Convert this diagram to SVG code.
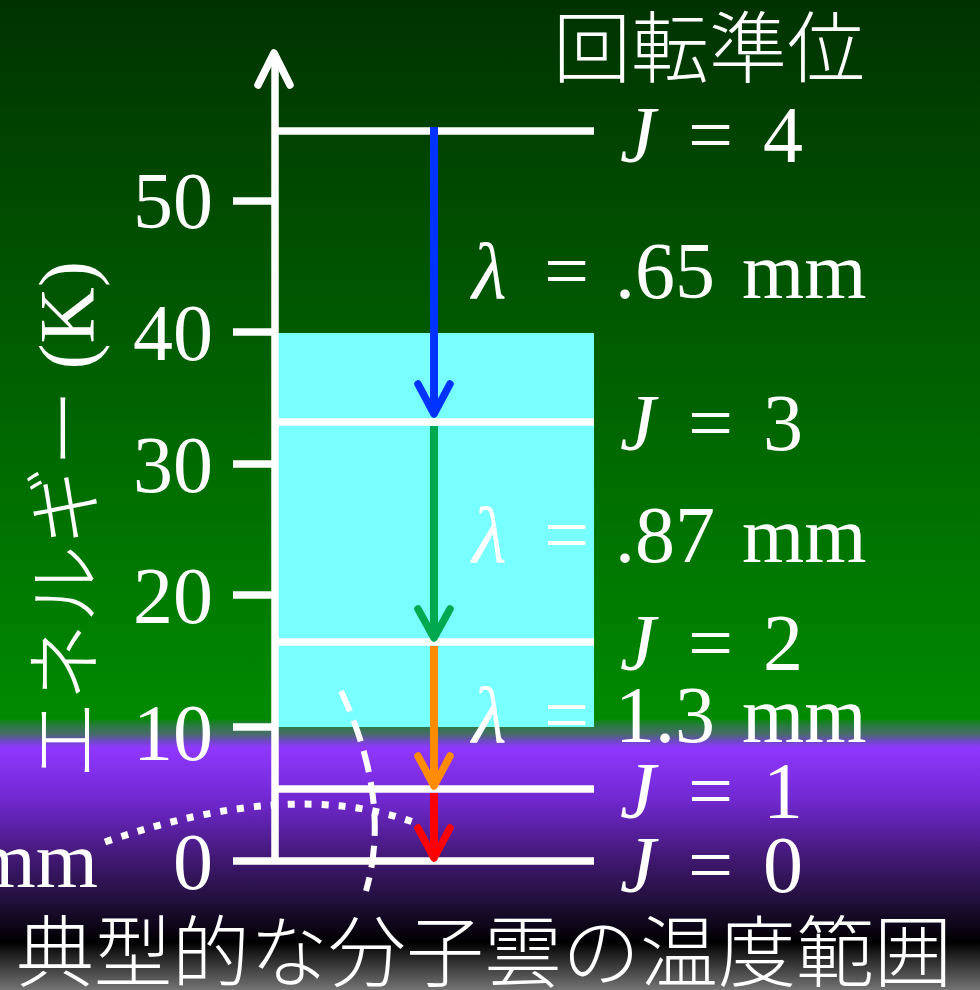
<svg xmlns="http://www.w3.org/2000/svg" width="980" height="990" viewBox="0 0 980 990">
<defs>
<linearGradient id="bg" gradientUnits="userSpaceOnUse" x1="0" y1="0" x2="0" y2="990">
<stop offset="0" stop-color="#003200"/>
<stop offset="0.725" stop-color="#008a00"/>
<stop offset="0.733" stop-color="#2a7a40"/>
<stop offset="0.742" stop-color="#4a6a70"/>
<stop offset="0.749" stop-color="#7048c8"/>
<stop offset="0.755" stop-color="#9038ff"/>
<stop offset="0.808" stop-color="#7028d0"/>
<stop offset="0.869" stop-color="#401870"/>
<stop offset="0.909" stop-color="#22103c"/>
<stop offset="0.952" stop-color="#000000"/>
<stop offset="0.96" stop-color="#151515"/>
<stop offset="1" stop-color="#747474"/>
</linearGradient>
<style>
.w{stroke:#ffffff;stroke-width:7.5;fill:none}
.head{fill:none;stroke-width:7.5;stroke-linecap:round;stroke-linejoin:round}
.shaft{stroke-width:8;fill:none}
.num{font-family:"Liberation Serif",serif;font-size:80px;fill:#ffffff}
.it{font-style:italic}
.cjk{font-family:"Noto Sans CJK JP Light","Noto Sans CJK JP",sans-serif;font-weight:300;font-size:78px;fill:#ffffff}
</style>
</defs>
<rect id="background" x="0" y="0" width="980" height="990" fill="url(#bg)"/>
<rect id="cloud-range" x="278" y="333" width="316" height="394" fill="#78ffff"/>

<g id="axis">
<line class="w" x1="275" y1="864" x2="275" y2="56"/>
<polyline class="head" stroke="#ffffff" points="258,85 274,53 290,85"/>
<line class="w" x1="233" y1="201" x2="275" y2="201"/>
<line class="w" x1="233" y1="332" x2="275" y2="332"/>
<line class="w" x1="233" y1="464" x2="275" y2="464"/>
<line class="w" x1="233" y1="595" x2="275" y2="595"/>
<line class="w" x1="233" y1="727" x2="275" y2="727"/>
<line class="w" x1="233" y1="861" x2="275" y2="861"/>
<text class="num" x="213" y="228" text-anchor="end">50</text>
<text class="num" x="213" y="360" text-anchor="end">40</text>
<text class="num" x="213" y="492" text-anchor="end">30</text>
<text class="num" x="213" y="623" text-anchor="end">20</text>
<text class="num" x="213" y="760" text-anchor="end">10</text>
<text class="num" x="213" y="889" text-anchor="end">0</text>
<text font-family="'Liberation Serif','Noto Sans CJK JP Light','Noto Sans CJK JP',serif" font-weight="300" font-size="78" fill="#ffffff" text-anchor="middle" transform="translate(93,520) rotate(-90)">エネルギー (K)</text>
</g>

<g id="level-J4"><line class="w" x1="275" y1="131" x2="594" y2="131"/>
<text class="num" x="620" y="162"><tspan class="it">J</tspan><tspan x="688">=</tspan><tspan x="763">4</tspan></text></g>
<g id="level-J3"><line class="w" x1="275" y1="422" x2="594" y2="422"/>
<text class="num" x="620" y="450"><tspan class="it">J</tspan><tspan x="688">=</tspan><tspan x="763">3</tspan></text></g>
<g id="level-J2"><line class="w" x1="275" y1="642" x2="594" y2="642"/>
<text class="num" x="620" y="670"><tspan class="it">J</tspan><tspan x="688">=</tspan><tspan x="763">2</tspan></text></g>
<g id="level-J1"><line class="w" x1="275" y1="789" x2="594" y2="789"/>
<text class="num" x="620" y="818"><tspan class="it">J</tspan><tspan x="688">=</tspan><tspan x="763">1</tspan></text></g>
<g id="level-J0"><line class="w" x1="275" y1="861" x2="594" y2="861"/>
<text class="num" x="620" y="892"><tspan class="it">J</tspan><tspan x="688">=</tspan><tspan x="763">0</tspan></text></g>

<g id="connectors">
<line class="shaft" stroke="#0033ff" x1="434" y1="127" x2="434" y2="412"/>
<polyline class="head" stroke="#0033ff" points="418,384 434,414 450,384"/>
<line class="shaft" stroke="#00a850" x1="434" y1="426" x2="434" y2="636"/>
<polyline class="head" stroke="#00a850" points="418,609 434,638 450,609"/>
<line class="shaft" stroke="#ff8c00" x1="434" y1="646" x2="434" y2="784"/>
<polyline class="head" stroke="#ff8c00" points="418,756 434,786 450,756"/>
<line class="shaft" stroke="#ff0000" x1="434" y1="793" x2="434" y2="857"/>
<polyline class="head" stroke="#ff0000" points="418,828 434,858 450,828"/>
</g>

<g id="wavelengths">
<text class="num" y="298"><tspan class="it" x="472">λ</tspan><tspan x="544">=</tspan><tspan x="615">.65</tspan><tspan x="742">mm</tspan></text>
<text class="num" y="562"><tspan class="it" x="472">λ</tspan><tspan x="544">=</tspan><tspan x="615">.87</tspan><tspan x="742">mm</tspan></text>
<text class="num" y="742"><tspan class="it" x="472">λ</tspan><tspan x="544">=</tspan><tspan x="615">1.3</tspan><tspan x="742">mm</tspan></text>
<text class="num" x="98" y="887" text-anchor="end">mm</text>
</g>

<g id="curves">
<path d="M105,842 Q290,778 413,822" stroke="#ffffff" stroke-width="7" fill="none" stroke-dasharray="7 10"/>
<path d="M341,691 Q392,800 366,891" stroke="#ffffff" stroke-width="6" fill="none" stroke-dasharray="22 10"/>
</g>

<text id="title" class="cjk" x="553" y="77">回転準位</text>
<text id="caption" class="cjk" x="16" y="981" font-size="79">典型的な分子雲の温度範囲</text>
</svg>
